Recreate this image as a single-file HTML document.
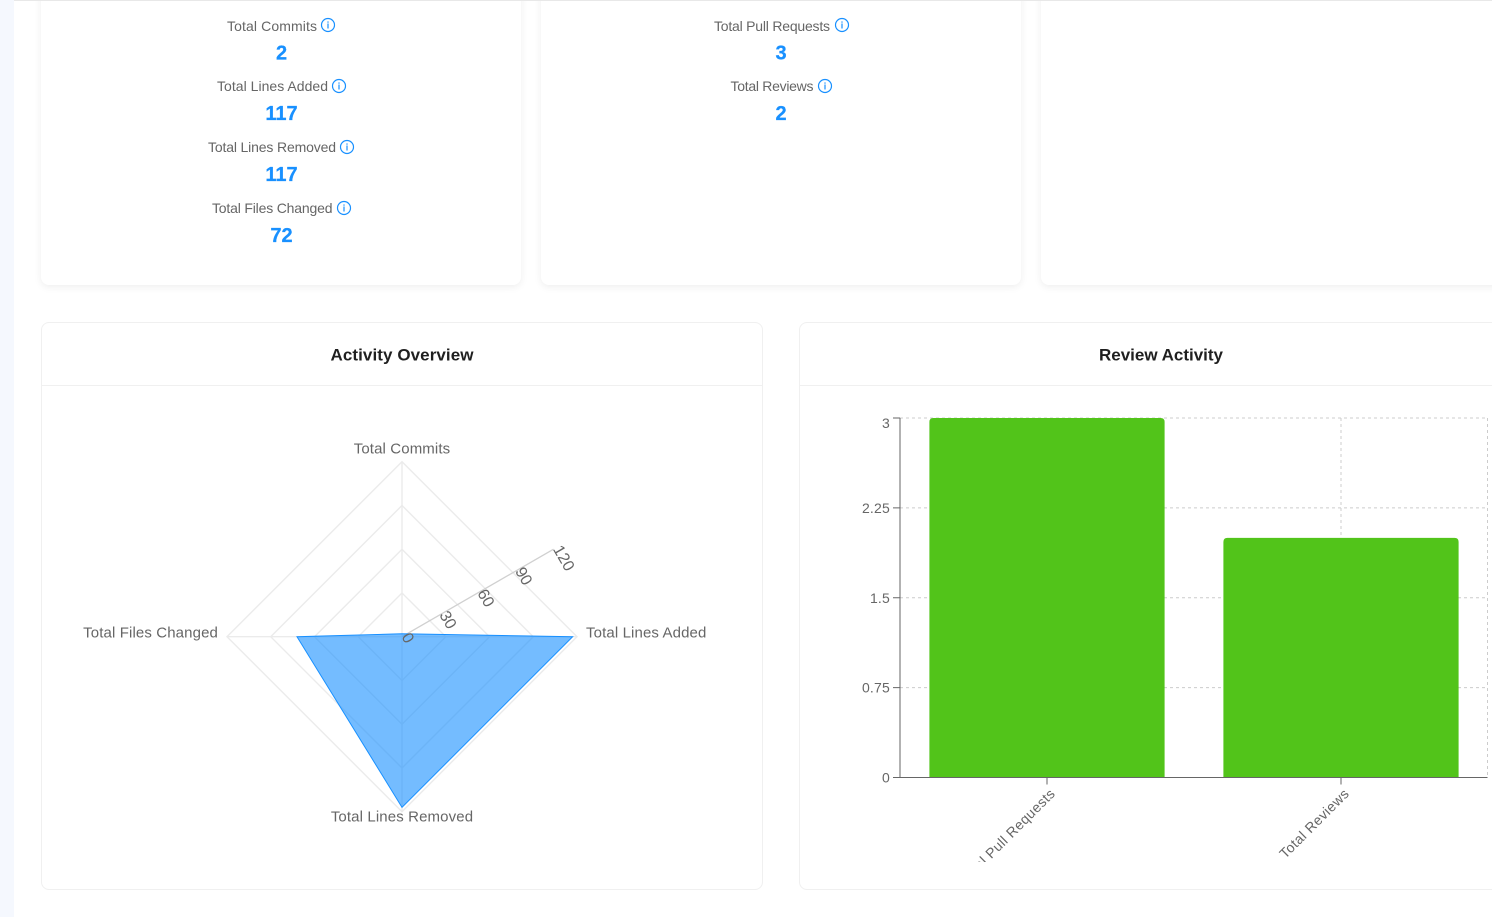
<!DOCTYPE html>
<html lang="en">
<head>
<meta charset="utf-8">
<title>Activity Dashboard</title>
<style>
html,body{margin:0;padding:0;width:1492px;height:917px;overflow:hidden;background:#fff;font-family:"Liberation Sans",sans-serif}
#stage{position:absolute;left:0;top:0;width:1492px;height:917px;overflow:hidden;background:#fff}
#sidebar{position:absolute;left:0;top:0;width:14px;height:917px;background:#f5f8fe}
#topline{position:absolute;left:14px;top:0;width:1478px;height:1px;background:#e8e8e8}
.card{position:absolute;top:-20px;height:305px;width:480px;background:#fff;border-radius:8px;box-shadow:0 2px 8px rgba(0,0,0,.07)}
.panel{position:absolute;top:322px;height:566px;background:#fff;border:1px solid #f0f0f0;border-radius:8px}
.panel-head{position:absolute;left:0;right:0;top:62px;height:1px;background:#f0f0f0}
svg{position:absolute;left:0;top:0}
.stat-label{font-size:14px;fill:#666}
.stat-value{font-size:20px;font-weight:700;fill:#1890ff;text-anchor:middle;stroke:#1890ff;stroke-width:.25px}
.title{font-size:17px;font-weight:700;fill:#1f1f1f;text-anchor:middle}
.cat{font-size:15px;fill:#666;letter-spacing:.12px}
.tick{font-size:14px;fill:#666;letter-spacing:.2px}
.rtick{font-size:16px;fill:#666}
.info circle{fill:none;stroke:#1890ff;stroke-width:1.2}
.info rect{fill:#1890ff}
</style>
</head>
<body>
<div id="stage">
  <div id="sidebar"></div>
  <div class="card" style="left:41px"></div>
  <div class="card" style="left:541px"></div>
  <div class="card" style="left:1041px;width:470px"></div>
  <div id="topline"></div>
  <div class="panel" style="left:41px;width:720px"><div class="panel-head"></div></div>
  <div class="panel" style="left:799px;width:720px"><div class="panel-head"></div></div>

  <svg width="1492" height="917" viewBox="0 0 1492 917">
    <text class="stat-label" x="227" y="31" textLength="90">Total Commits</text>
    <g class="info" transform="translate(328,25)"><circle r="6.5"/><rect x="-.6" y="-1.5" width="1.2" height="5"/><rect x="-.6" y="-3.6" width="1.2" height="1.3"/></g>
    <text class="stat-value" x="281.5" y="59.500">2</text>

    <text class="stat-label" x="217" y="91" textLength="111">Total Lines Added</text>
    <g class="info" transform="translate(339,86)"><circle r="6.5"/><rect x="-.6" y="-1.5" width="1.2" height="5"/><rect x="-.6" y="-3.6" width="1.2" height="1.3"/></g>
    <text class="stat-value" x="281.5" y="120">117</text>

    <text class="stat-label" x="208" y="152" textLength="128">Total Lines Removed</text>
    <g class="info" transform="translate(347,147)"><circle r="6.5"/><rect x="-.6" y="-1.5" width="1.2" height="5"/><rect x="-.6" y="-3.6" width="1.2" height="1.3"/></g>
    <text class="stat-value" x="281.5" y="181">117</text>

    <text class="stat-label" x="212" y="213" textLength="120.500">Total Files Changed</text>
    <g class="info" transform="translate(344,208)"><circle r="6.5"/><rect x="-.6" y="-1.5" width="1.2" height="5"/><rect x="-.6" y="-3.6" width="1.2" height="1.3"/></g>
    <text class="stat-value" x="281.5" y="242">72</text>

    <text class="stat-label" x="714" y="31" textLength="116">Total Pull Requests</text>
    <g class="info" transform="translate(842,25)"><circle r="6.5"/><rect x="-.6" y="-1.5" width="1.2" height="5"/><rect x="-.6" y="-3.6" width="1.2" height="1.3"/></g>
    <text class="stat-value" x="781" y="59.500">3</text>

    <text class="stat-label" x="730.500" y="91" textLength="83">Total Reviews</text>
    <g class="info" transform="translate(825,86)"><circle r="6.5"/><rect x="-.6" y="-1.5" width="1.2" height="5"/><rect x="-.6" y="-3.6" width="1.2" height="1.3"/></g>
    <text class="stat-value" x="781" y="120">2</text>

    <text class="title" x="402" y="360.500" textLength="143">Activity Overview</text>
    <text class="title" x="1161" y="360.500" textLength="124">Review Activity</text>
  </svg>

  <svg id="radar" width="1492" height="917" viewBox="0 0 1492 917"></svg>
  <svg id="bars" width="1492" height="917" viewBox="0 0 1492 917">
    <defs><clipPath id="xlabel-clip"><rect x="800" y="778" width="692" height="84"></rect></clipPath></defs>
  </svg>
</div>

<script>
const radarCategories = ["Total Commits", "Total Lines Added", "Total Lines Removed", "Total Files Changed"];
const radarValues = [2, 117, 117, 72];
const radarTicks = [0, 30, 60, 90, 120];

const barCategories = ["Total Pull Requests", "Total Reviews"];
const barValues = [3, 2];
const barTicks = [0, 0.75, 1.5, 2.25, 3];

const NS = "http://www.w3.org/2000/svg";
function mk(parent, tag, attrs, text) {
  const el = document.createElementNS(NS, tag);
  for (const k in attrs) el.setAttribute(k, attrs[k]);
  if (text !== undefined) el.textContent = text;
  parent.appendChild(el);
  return el;
}

/* Radar chart */
(function () {
  const svg = document.getElementById("radar");
  const cx = 402, cy = 636.7, R = 175;
  const maxV = radarTicks[radarTicks.length - 1];
  const radius = v => v / maxV * R;
  const angle = i => i * 2 * Math.PI / radarCategories.length;
  const px = (i, r) => cx + r * Math.sin(angle(i));
  const py = (i, r) => cy - r * Math.cos(angle(i));
  const poly = fn => radarCategories.map((_, i) => fn(i).join(",")).join(" ");

  radarTicks.forEach(t => {
    if (t === 0) return;
    const ring = mk(svg, "polygon", {
      points: poly(i => [px(i, radius(t)), py(i, radius(t))]),
      fill: "none", stroke: "#ebebeb", "stroke-width": 1.4
    });
    
    
  });
  radarCategories.forEach((_, i) => {
    const spoke = mk(svg, "line", { x1: cx, y1: cy, x2: px(i, R), y2: py(i, R), stroke: "#ebebeb", "stroke-width": 1.4 });
    
    
  });

  const axisAngle = Math.PI / 3;
  const ax = v => cx + radius(v) * Math.sin(axisAngle);
  const ay = v => cy - radius(v) * Math.cos(axisAngle);
  const axisLine = mk(svg, "line", { x1: ax(0), y1: ay(0), x2: ax(maxV), y2: ay(maxV), stroke: "#d0d0d0", "stroke-width": 1.3 });
  
  

  const shape = mk(svg, "polygon", {
    points: poly(i => [px(i, radius(radarValues[i])), py(i, radius(radarValues[i]))]),
    fill: "#1890ff", "fill-opacity": .6, stroke: "#1890ff", "stroke-width": 1
  });
  
  

  radarTicks.forEach(t => {
    const x = ax(t) - 0.9, y = ay(t);
    const label = mk(svg, "text", { class: "rtick", x: x, y: y, transform: "rotate(60 " + x + " " + y + ")" }, String(t));
    
    
  });

  radarCategories.forEach((c, i) => {
    const s = Math.sin(angle(i));
    const anchor = Math.abs(s) < 0.01 ? "middle" : (s > 0 ? "start" : "end");
    const label = mk(svg, "text", { class: "cat", x: px(i, R + 9), y: py(i, R + 9) + 0.8, "text-anchor": anchor }, c);
    
    
  });
})();

/* Bar chart */
(function () {
  const svg = document.getElementById("bars");
  const left = 900, right = 1488, top = 418, bottom = 777.5;
  const maxV = barTicks[barTicks.length - 1];
  const yScale = v => bottom - v / maxV * (bottom - top);
  const band = (right - left) / barCategories.length;
  const xCenter = i => left + band * (i + 0.5);
  const barW = band * 0.8;

  barTicks.forEach(t => {
    if (t === 0) return;
    const g = mk(svg, "line", { x1: left, x2: right, y1: yScale(t), y2: yScale(t), stroke: "#ccc", "stroke-dasharray": "3 3" });
    
    
  });
  barCategories.forEach((_, i) => {
    const g = mk(svg, "line", { x1: xCenter(i), x2: xCenter(i), y1: top, y2: bottom, stroke: "#ccc", "stroke-dasharray": "3 3" });
    
    
  });
  const edge = mk(svg, "line", { x1: right - 0.5, x2: right - 0.5, y1: top, y2: bottom, stroke: "#ccc", "stroke-dasharray": "3 3" });
  
  

  barValues.forEach((v, i) => {
    const x0 = xCenter(i) - barW / 2, x1 = xCenter(i) + barW / 2, y0 = yScale(v), r = 4;
    const d = "M" + x0 + " " + bottom + "L" + x0 + " " + (y0 + r) + "Q" + x0 + " " + y0 + " " + (x0 + r) + " " + y0 +
      "L" + (x1 - r) + " " + y0 + "Q" + x1 + " " + y0 + " " + x1 + " " + (y0 + r) + "L" + x1 + " " + bottom + "Z";
    const bar = mk(svg, "path", { d: d, fill: "#52c41a" });
    
    
  });

  const yAxis = mk(svg, "line", { x1: left, x2: left, y1: top, y2: bottom, stroke: "#666" });
  
  
  const xAxis = mk(svg, "line", { x1: left, x2: right - 0.5, y1: bottom, y2: bottom, stroke: "#666" });
  
  

  barTicks.forEach((t, i) => {
    const y = yScale(t);
    const mark = mk(svg, "line", { x1: left - 7, x2: left, y1: y, y2: y, stroke: "#666" });
    
    
    const base = i === barTicks.length - 1 ? y + 10 : y + 5;
    const label = mk(svg, "text", { class: "tick", x: left - 10, y: base, "text-anchor": "end" }, String(t));
    
    
  });

  const clip = mk(svg, "g", { "clip-path": "url(#xlabel-clip)" });
  
  
  barCategories.forEach((c, i) => {
    const x = xCenter(i);
    const mark = mk(svg, "line", { x1: x, x2: x, y1: bottom, y2: bottom + 7, stroke: "#666" });
    
    
    const lx = x + 9, ly = bottom + 17;
    const label = mk(clip, "text", {
      class: "tick", x: lx, y: ly, "text-anchor": "end", style: "letter-spacing:.4px",
      transform: "rotate(-45 " + lx + " " + ly + ")"
    }, c);
    
    
  });
})();
</script>
</body>
</html>
